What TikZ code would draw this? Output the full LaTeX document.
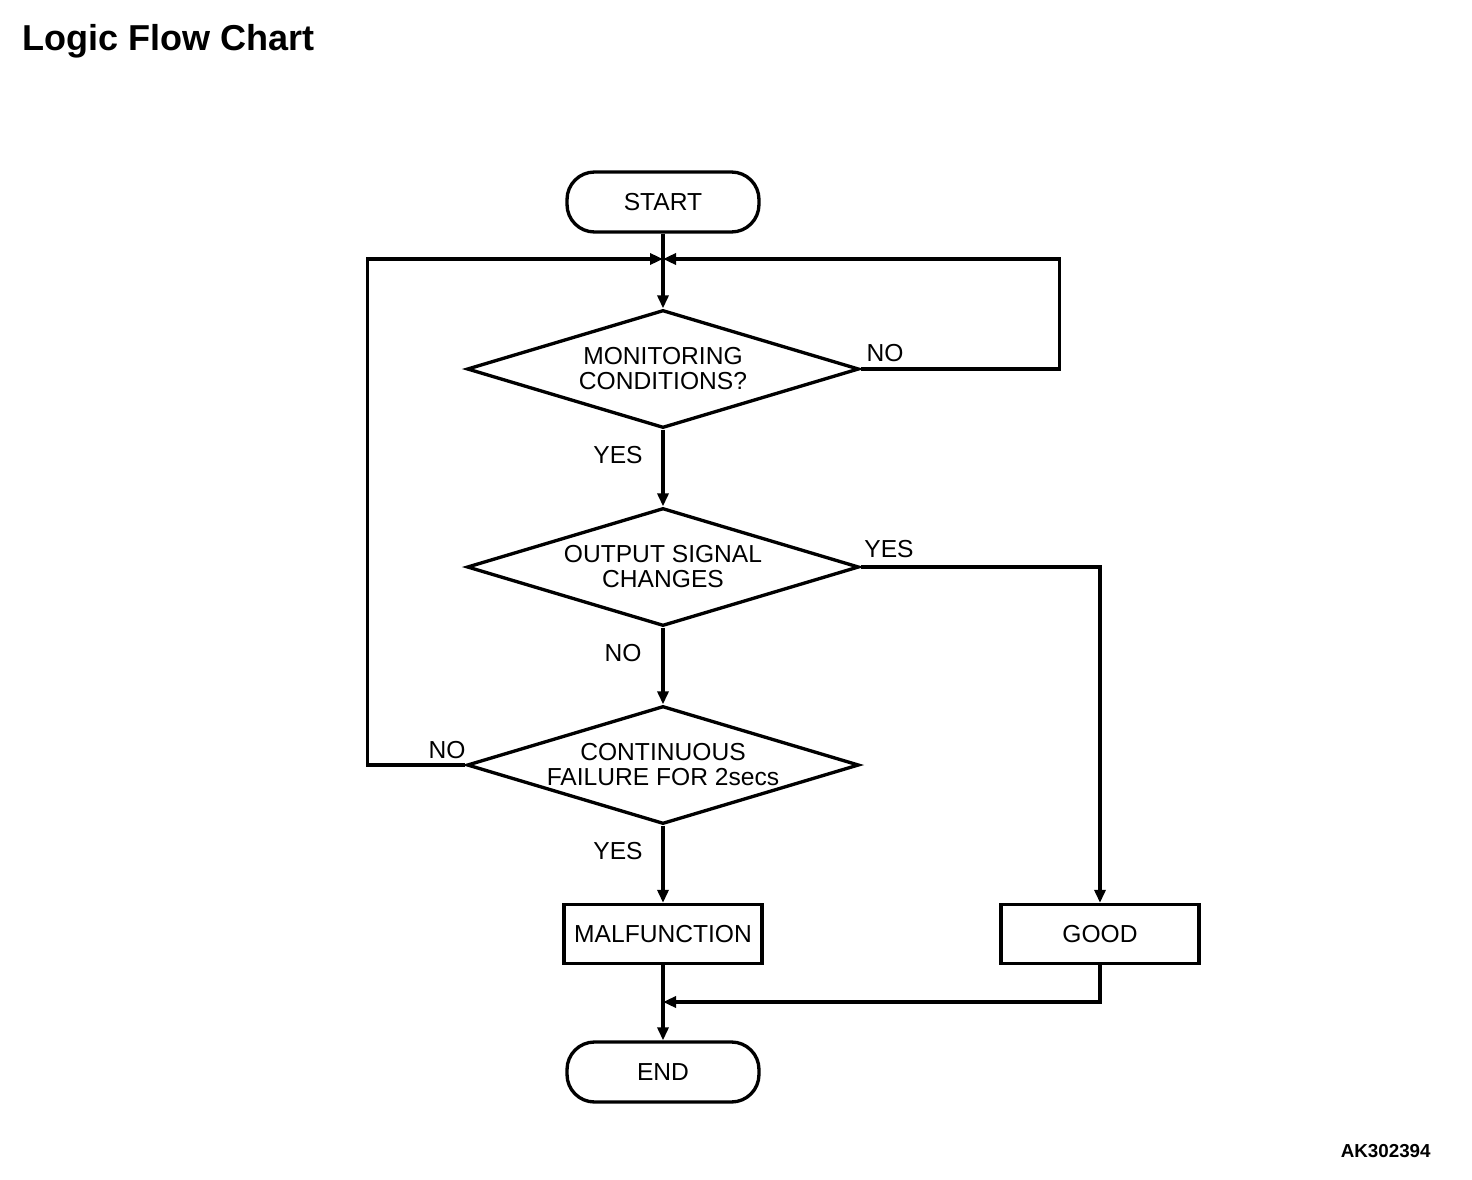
\documentclass[tikz,border=0pt]{standalone}
\usepackage{fontspec}
\setmainfont{Liberation Sans}
\usetikzlibrary{shapes.geometric,arrows.meta}
\newcommand\chartfont{\fontsize{14}{14.2}\selectfont}

\begin{document}
\begin{tikzpicture}[x=0.02cm,y=-0.02cm,
  term/.style={draw,line width=1.9pt,rounded corners=0.55cm,minimum width=3.84cm,minimum height=1.2cm,font=\chartfont},
  decision/.style={draw,line width=1.9pt,diamond,aspect=3.32,inner sep=0pt,minimum width=7.84cm,minimum height=2.36cm,align=center,font=\chartfont},
  proc/.style={draw,line width=1.9pt,minimum width=3.96cm,minimum height=1.18cm,font=\chartfont},
  lbl/.style={inner sep=0pt,font=\chartfont},
  line/.style={line width=1.9pt},
  flow/.style={line width=1.9pt,-{Triangle[length=0.26cm,width=0.22cm]}}]
\useasboundingbox (0,0) rectangle (1472,1180);
\node[anchor=base west,inner sep=0pt,font=\fontsize{20.5}{24}\selectfont\bfseries] (title) at (22,50) {Logic Flow Chart};
\node[anchor=base east,inner sep=0pt,font=\fontsize{10.7}{13}\selectfont\bfseries] (code) at (1431,1157) {AK302394};
% boxes
\node[term] (start) at (663,202) {START};
\node[decision] (mon) at (663,369) {MONITORING\\CONDITIONS?};
\node[decision] (out) at (663,567) {OUTPUT SIGNAL\\CHANGES};
\node[decision] (cont) at (663,765) {CONTINUOUS\\FAILURE FOR 2secs};
\node[proc] (bad) at (663,934) {MALFUNCTION};
\node[proc] (good) at (1100,934) {GOOD};
\node[term] (end) at (663,1072) {END};
\coordinate (join) at (663,259);
\coordinate (merge) at (663,1002);
% labels
\node[lbl] (mon no) at (885,353) {NO};
\node[lbl] (mon yes) at (618,455) {YES};
\node[lbl] (out yes) at (889,549) {YES};
\node[lbl] (out no) at (623,653) {NO};
\node[lbl] (cont no) at (447,750) {NO};
\node[lbl] (cont yes) at (618,851) {YES};
% connectors
\draw[line] (start) -- (join);
\draw[flow] (join) -- (mon);
\draw[flow] (mon.east) -- ++(199,0) |- (join);
\draw[flow] (mon) -- (out);
\draw[flow] (out.east) -| (good);
\draw[flow] (out) -- (cont);
\draw[flow] (cont.west) -- ++(-98,0) |- (join);
\draw[flow] (cont) -- (bad);
\draw[line] (bad) -- (merge);
\draw[flow] (good) |- (merge);
\draw[flow] (merge) -- (end);
\end{tikzpicture}
\end{document}
